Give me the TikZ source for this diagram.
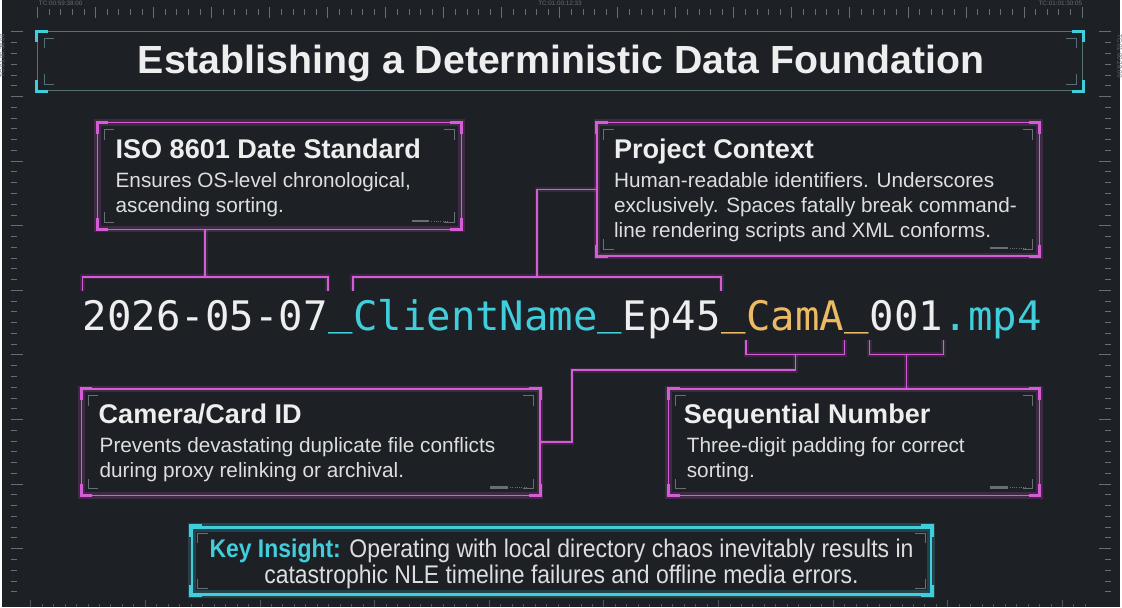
\documentclass[tikz,border=0pt]{standalone}
\usepackage{fontspec}
\setmainfont{Liberation Sans}
\setmonofont{DejaVu Sans Mono}
\newfontfamily\narrowfont[FakeStretch=0.9]{Liberation Sans}
\usepackage{tikz}
\usepackage{xcolor}
\definecolor{bgdark}{RGB}{29, 32, 37}
\definecolor{neonpink}{RGB}{214, 92, 214}
\definecolor{neoncyan}{RGB}{64, 206, 220}
\definecolor{camorange}{RGB}{236, 186, 98}
\definecolor{framegray}{RGB}{86, 112, 118}
\definecolor{tickgray}{RGB}{104, 110, 116}
\definecolor{textwhite}{RGB}{238, 238, 238}
\definecolor{bodywhite}{RGB}{222, 222, 222}
\usetikzlibrary{calc,positioning}

\tikzset{
    pinkbox/.style={draw=neonpink, line width=1.1pt, inner sep=0pt, outer sep=0pt,
        preaction={draw=neonpink, line width=4.5pt, opacity=0.18}},
    pinkline/.style={neonpink, line width=1.1pt,
        preaction={draw=neonpink, line width=3.5pt, opacity=0.15}},
    boxtitle/.style={textwhite, anchor=base west, inner sep=0pt, font=\bfseries\fontsize{19.3}{22}\selectfont},
    boxbody/.style={bodywhite, anchor=base west, inner sep=0pt, align=left, font=\fontsize{14.8}{17.8}\selectfont},
    fname/.style={font=\ttfamily\fontsize{29}{29}\selectfont, inner xsep=0pt, inner ysep=6.5pt,
        text height=22pt, text depth=0pt},
    tick/.style={tickgray, line width=0.6pt},
    tcode/.style={tickgray, inner sep=0pt, font=\fontsize{4.5}{5}\selectfont}
}

% raised underscore of the file name
\newcommand{\fnus}{\raisebox{4.5pt}{\_}}

% corner brackets of a box: node, outer colour, inner colour
\newcommand{\cornermarks}[3]{%
    \foreach \a/\sx/\sy in {north west/1/1, north east/-1/1, south west/1/-1, south east/-1/-1} {
        \draw[#2, line width=2.2pt] ([shift={(\sx*11,0)}]#1.\a) -- (#1.\a) -- ([shift={(0,\sy*11)}]#1.\a);
        \draw[#3, line width=0.5pt] ([shift={(\sx*17,\sy*7)}]#1.\a) -- ([shift={(\sx*7,\sy*7)}]#1.\a) -- ([shift={(\sx*7,\sy*17)}]#1.\a);
    }
}

\begin{document}
\begin{tikzpicture}[x=0.025cm, y=-0.025cm]
    % Background
    \fill[bgdark] (0,0) rectangle (1122,609);

    % Rulers
    \foreach \i in {0,...,90} {
        \pgfmathsetmacro\tl{mod(\i,5)==0 ? 11 : 6}
        \draw[tick] (36+\i*11.64, 12.5-\tl/2) -- (36+\i*11.64, 12.5+\tl/2);
    }
    \foreach \i in {0,...,52} {
        \pgfmathsetmacro\tl{mod(\i,6)==0 ? 12 : 6}
        \draw[tick] (9, 32+\i*10.8) -- (9+\tl, 32+\i*10.8);
        \draw[tick] (1113-\tl, 32+\i*10.8) -- (1113, 32+\i*10.8);
    }
    \foreach \i in {0,...,92} {
        \pgfmathsetmacro\tl{mod(\i,10)==0 ? 7 : 3}
        \draw[tick, opacity=0.7] (29+\i*11.5, 609-\tl) -- (29+\i*11.5, 609);
    }
    \node[tcode, anchor=north west] (tc1) at (37,0.5) {TC:00:59:38:00};
    \node[tcode, anchor=north] (tc2) at (560,0.5) {TC:01:00:12:33};
    \node[tcode, anchor=north east] (tc3) at (1084,0.5) {TC:01:01:30:05};
    \node[tcode, rotate=90, anchor=south east] (tc4) at (3,34) {TC:01:00:38:00};
    \node[tcode, rotate=-90, anchor=south west] (tc5) at (1119,34) {TC:01:00:28:00};

    % Title
    \node[draw=framegray, line width=0.8pt, inner sep=0pt, minimum width=26.2cm, minimum height=1.475cm] (titlebox) at (560,61.5) {};
    \cornermarks{titlebox}{neoncyan}{framegray}
    \node[textwhite, anchor=base, inner sep=0pt, font=\bfseries\fontsize{28}{30}\selectfont] (title) at ([shift={(1,12.5)}]titlebox.center) {Establishing a Deterministic Data Foundation};

    % Info boxes
    \node[pinkbox, minimum width=9.125cm, minimum height=2.675cm] (isobox) at (278.5,176.5) {};
    \node[pinkbox, minimum width=11.1cm, minimum height=3.35cm] (projbox) at (819,190) {};
    \node[pinkbox, minimum width=11.5cm, minimum height=2.675cm] (cambox) at (310,443.5) {};
    \node[pinkbox, minimum width=9.3cm, minimum height=2.675cm] (seqbox) at (855,443.5) {};
    \foreach \b in {isobox, projbox, cambox, seqbox} {
        \cornermarks{\b}{neonpink}{tickgray}
        \draw[tickgray, line width=1.6pt] ([shift={(-50,-8)}]\b.south east) -- ++(18,0);
        \draw[tickgray, line width=0.5pt, dash pattern=on 0.6pt off 1pt] ([shift={(-30,-8)}]\b.south east) -- ++(16,0);
    }

    \node[boxtitle] (isotitle) at ([shift={(18,36)}]isobox.north west) {ISO 8601 Date Standard};
    \node[boxbody] (isobody) at ([shift={(18,90)}]isobox.north west) {Ensures OS-level chronological,\\ascending sorting.};

    \node[boxtitle] (projtitle) at ([shift={(17,36)}]projbox.north west) {Project Context};
    \node[boxbody] (projbody) at ([shift={(17,115)}]projbox.north west) {Human-readable identifiers. Underscores\\exclusively. Spaces fatally break command-\\line rendering scripts and XML conforms.};

    \node[boxtitle] (camtitle) at ([shift={(17,35)}]cambox.north west) {Camera/Card ID};
    \node[boxbody] (cambody) at ([shift={(18,89)}]cambox.north west) {Prevents devastating duplicate file conflicts\\during proxy relinking or archival.};

    \node[boxtitle] (seqtitle) at ([shift={(15,35)}]seqbox.north west) {Sequential Number};
    \node[boxbody] (seqbody) at ([shift={(18,89)}]seqbox.north west) {Three-digit padding for correct\\sorting.};

    % File name
    \node[fname, textwhite, anchor=base west] (fdate) at (81,332) {2026-05-07};
    \node[fname, neoncyan, right=0pt of fdate] (fus1) {\fnus};
    \node[fname, neoncyan, right=0pt of fus1] (fclient) {ClientName\fnus};
    \node[fname, textwhite, right=0pt of fclient] (fep) {Ep45};
    \node[fname, camorange, right=0pt of fep] (fus2) {\fnus};
    \node[fname, camorange, right=0pt of fus2] (fcam) {CamA};
    \node[fname, camorange, right=0pt of fcam] (fus3) {\fnus};
    \node[fname, textwhite, right=0pt of fus3] (fseq) {001};
    \node[fname, neoncyan, right=0pt of fseq] (fext) {.mp4};

    % Brackets and connections
    \coordinate (datebr) at ($(fdate.north)+(0,-14)$);
    \coordinate (projbr) at ($(fclient.north west)!0.5!(fep.north east)+(0,-14)$);
    \coordinate (cambr) at ($(fcam.south)+(0,14)$);
    \coordinate (seqbr) at ($(fseq.south)+(0,14)$);

    \draw[pinkline] (fdate.north west) -- ++(0,-14) -| (fdate.north east);
    \draw[pinkline] (datebr) -- (datebr |- isobox.south);

    \draw[pinkline] (fclient.north west) -- ++(0,-14) -| (fep.north east);
    \draw[pinkline] (projbr) |- (projbox.west);

    \draw[pinkline] (fcam.south west) -- ++(0,14) -| (fcam.south east);
    \draw[pinkline] (cambox.east) -- ++(32,0) |- ($(cambr)+(0,16)$) -- (cambr);

    \draw[pinkline] (fseq.south west) -- ++(0,14) -| (fseq.south east);
    \draw[pinkline] (seqbr) -- (seqbr |- seqbox.north);

    % Key insight
    \node[draw=neoncyan, line width=2pt, inner sep=0pt, minimum width=18.525cm, minimum height=1.675cm,
        preaction={draw=neoncyan, line width=6pt, opacity=0.2}] (keybox) at (561.5,562.5) {};
    \cornermarks{keybox}{neoncyan}{tickgray}
    \node[bodywhite, align=center, inner sep=0pt, font=\narrowfont\fontsize{18.2}{18.5}\selectfont] (keytext) at ([shift={(0,3)}]keybox.center)
        {{\color{neoncyan}\bfseries Key Insight:} Operating with local directory chaos inevitably results in\\catastrophic NLE timeline failures and offline media errors.};
\end{tikzpicture}
\end{document}
